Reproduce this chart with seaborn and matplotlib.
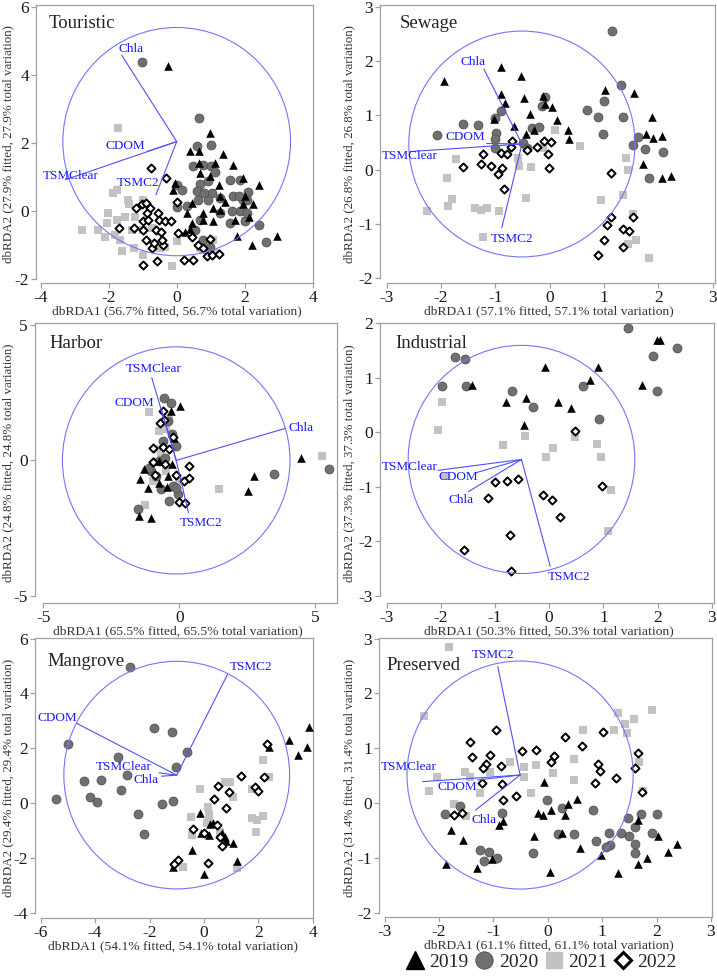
import matplotlib
matplotlib.use("Agg")
import pandas as pd
import matplotlib.pyplot as plt
import seaborn as sns
from matplotlib.patches import Circle
from matplotlib.lines import Line2D

sns.set_style("white")
plt.rcParams['font.family'] = ['Liberation Serif', 'DejaVu Serif']
plt.rcParams['axes.unicode_minus'] = False

years = ["2019", "2020", "2021", "2022"]
variables = ["Chla", "CDOM", "TSMClear", "TSMC2"]

# ---------------- Touristic
touristic_pct = (56.7, 27.9)
touristic_2019 = [(-0.26, 4.27), (0.98, 2.29), (0.67, 1.75), (0.39, 1.75), (0.67, 1.41), (0.69, 1.11),
                  (0.98, 1.02), (1.13, 1.41), (1.37, 1.68), (1.23, 0.77), (1.27, 0.43), (1.42, 0.28),
                  (1.67, 1.36), (1.96, 0.97), (2.01, 0.43), (1.96, 0.22), (2.25, 0.22), (2.42, 0.77),
                  (0.44, 0.23), (-0.10, 0.61), (-0.05, 0.82), (0.29, -0.06), (0.78, -0.06), (1.08, 0.09),
                  (1.27, 0.04), (0.44, -0.35), (0.78, -0.25), (1.08, -0.30), (1.72, -0.25), (2.14, -0.16),
                  (1.77, -0.74), (2.21, -0.99), (2.94, -0.74), (0.25, -0.60), (0.39, -0.53)]
touristic_2020 = [(-1.03, 4.39), (0.66, 2.73), (0.59, 1.90), (1.00, 1.93), (0.76, 1.34), (0.49, 1.33),
                  (1.02, 1.31), (1.13, 1.16), (0.69, 0.79), (0.93, 0.87), (1.05, 0.53), (1.27, 0.38),
                  (1.57, 0.92), (1.86, 0.92), (1.67, 0.43), (2.11, 0.56), (1.96, 0.33), (2.08, 0.33),
                  (1.86, -0.01), (1.62, -0.01), (1.84, 0.43), (0.00, 0.77), (0.15, 0.61), (0.00, 0.12),
                  (0.31, 0.14), (0.59, 0.58), (0.80, 0.53), (0.64, 0.33), (0.93, 0.33), (1.57, -0.35),
                  (2.01, -0.30), (2.06, -0.06), (2.43, -0.40), (2.62, -0.92), (0.69, -0.25), (0.54, -0.55),
                  (0.78, -0.84), (0.98, -1.04), (1.27, -0.06)]
touristic_2021 = [(-1.74, 2.44), (-1.76, 0.63), (-1.86, 0.53), (-2.01, -0.06), (-2.33, -0.55), (-2.79, -0.55),
                  (-2.06, -0.35), (-2.11, -0.76), (-1.76, -0.25), (-1.42, 0.33), (-1.52, -0.16), (-1.39, 0.22),
                  (-0.98, 0.33), (-1.23, -0.16), (-0.98, -0.55), (-1.32, -0.55), (-1.67, -0.84), (-1.81, -0.69),
                  (-1.62, -1.18), (-1.27, -1.09), (-0.98, -1.28), (-0.74, -0.50), (-0.49, -1.09), (-0.34, -1.04),
                  (0.00, -0.89), (-0.15, -1.62), (0.78, -1.13), (1.18, -1.23), (2.01, -0.30), (0.69, -1.09),
                  (1.08, -0.84)]
touristic_2022 = [(-0.76, 1.26), (-0.32, 0.97), (-1.19, 0.09), (-1.03, 0.22), (-0.91, 0.23), (-0.78, 0.09),
                  (-1.70, -0.50), (-1.27, -0.50), (-1.00, -0.55), (-0.98, -0.30), (-0.88, -0.06), (-0.83, -0.25),
                  (-0.61, -0.55), (-0.54, -0.06), (-0.51, -0.25), (-0.34, -0.30), (-0.17, -0.28), (0.00, 0.28),
                  (-0.91, -0.84), (-0.74, -1.09), (-0.67, -0.94), (-0.45, -0.60), (-0.39, -0.99), (0.05, -0.65),
                  (0.44, -0.76), (0.64, -0.99), (0.76, -1.09), (0.98, -0.81), (0.20, -1.43), (0.47, -1.43),
                  (0.88, -1.33), (1.03, -1.28), (1.23, -1.26), (-0.98, -1.58), (-0.57, -1.45), (-0.44, -0.84)]
touristic_center = (0.0, 2.04)
touristic_radius = 3.35
touristic_vectors = {"Chla": (-1.62, 4.58), "CDOM": (-0.88, 1.75), "TSMClear": (-3.28, 0.92), "TSMC2": (-0.61, 0.48)}

# ---------------- Sewage
sewage_pct = (57.1, 26.8)
sewage_2019 = [(-1.95, 1.63), (-0.90, 1.88), (-0.52, 1.72), (-0.89, 1.40), (-0.82, 1.23), (-0.48, 1.32),
               (-0.36, 1.02), (-0.13, 1.35), (-0.09, 1.21), (0.05, 1.15), (0.14, 0.92), (-0.66, 0.80),
               (-0.43, 0.65), (-0.29, 0.72), (0.34, 0.72), (0.36, 0.56), (1.02, 1.47), (1.55, 1.41),
               (1.89, 0.97), (1.77, 0.66), (1.90, 0.58), (2.06, 0.62), (1.71, 0.11), (2.07, -0.15),
               (2.23, -0.12), (-1.02, 0.93)]
sewage_2020 = [(1.15, 2.55), (-2.07, 0.64), (-1.59, 0.83), (-1.31, 0.82), (-1.01, 0.94), (-0.90, 1.08),
               (-0.99, 0.68), (-1.01, 0.56), (-1.01, 0.40), (-0.32, 0.77), (-0.19, 0.79), (-0.15, 1.17),
               (-0.08, 1.34), (-0.49, 0.48), (-0.41, 0.40), (0.68, 1.09), (0.88, 0.96), (1.00, 1.26),
               (1.31, 1.56), (1.35, 0.96), (0.98, 0.66), (1.62, 0.59), (1.53, 0.45), (1.76, 0.37),
               (2.08, 0.33), (1.82, -0.15)]
sewage_2021 = [(-1.73, 0.19), (-1.89, -0.15), (-1.79, -0.55), (-1.87, -0.67), (-2.25, -0.76), (-1.38, -0.70),
               (-1.26, -0.75), (-1.15, -0.70), (-0.94, -0.76), (-1.22, -1.24), (-0.57, 0.07), (-0.43, -0.52),
               (-0.34, 0.05), (-0.12, 0.40), (0.10, 0.72), (0.55, 0.44), (0.95, -0.56), (1.35, -0.47),
               (1.40, 0.22), (1.44, 0.00), (1.54, -0.81), (1.58, -1.29), (1.44, -1.37), (1.82, -1.63),
               (-0.58, 0.22)]
sewage_2022 = [(-1.59, 0.05), (-1.22, 0.28), (-1.27, 0.10), (-1.08, 0.07), (-0.95, -0.09), (-0.87, 0.02),
               (-0.90, 0.30), (-0.78, 0.28), (-0.72, 0.42), (-0.69, 0.53), (-0.84, -0.35), (-0.42, 0.36),
               (-0.23, 0.42), (-0.11, 0.53), (0.02, 0.51), (-0.03, 0.28), (-0.01, 0.02), (1.13, -0.06),
               (1.12, -0.87), (1.05, -1.03), (0.99, -1.30), (0.88, -1.58), (1.35, -1.10), (1.45, -1.14),
               (1.35, -1.42), (1.53, -0.88)]
sewage_center = (-0.51, 0.47)
sewage_radius = 2.08
sewage_vectors = {"Chla": (-1.21, 1.85), "CDOM": (-1.16, 0.48), "TSMClear": (-2.57, 0.33), "TSMC2": (-0.88, -1.07)}

# ---------------- Harbor
harbor_pct = (65.5, 24.8)
harbor_2019 = [(0.04, 2.02), (-1.28, -0.32), (-1.45, -0.70), (-1.15, -1.01), (-1.47, -2.05), (-1.03, -2.12),
               (-0.76, -0.02), (-0.74, -0.82), (-0.45, -0.97), (-0.40, -0.58), (-0.18, 0.84), (-0.25, -0.15),
               (2.76, -0.59), (2.55, -1.11), (4.48, 0.10), (-0.31, 1.82)]
harbor_2020 = [(-0.55, 2.29), (-0.29, 2.12), (-0.25, 0.98), (-0.12, 0.53), (-0.61, 0.71), (-0.74, -0.02),
               (-1.04, -0.39), (-0.86, -0.58), (-0.67, -1.07), (-0.37, -1.50), (-0.06, -1.25), (-0.22, -0.95),
               (-0.52, 0.10), (-1.50, -1.78), (3.50, -0.49), (5.52, -0.31), (-1.10, -0.27), (-0.12, -1.01),
               (-0.43, 1.45)]
harbor_2021 = [(-1.10, 1.80), (-0.74, 1.08), (-0.47, 1.17), (-0.37, 1.57), (-0.80, 0.41), (-0.67, 0.16),
               (-0.96, -0.76), (-1.25, -1.66), (1.47, -1.05), (5.25, 0.16), (0.00, -0.76), (-0.49, -0.39)]
harbor_2022 = [(-0.58, 1.81), (-0.56, 1.50), (-0.69, 1.39), (-0.22, 0.85), (-0.96, 0.46), (-0.61, 0.49),
               (-0.37, 0.43), (-0.97, -0.07), (-0.54, -0.12), (-0.88, -0.53), (-0.12, -0.53), (0.37, -0.21),
               (0.37, -0.64), (0.18, -0.77), (0.00, -1.54), (0.20, -1.57), (-0.96, -0.05)]
harbor_center = (-0.11, 0.0)
harbor_radius = 4.19
harbor_vectors = {"Chla": (3.90, 1.18), "CDOM": (-0.67, 1.92), "TSMClear": (-1.01, 3.05), "TSMC2": (0.34, -1.93)}

# ---------------- Industrial
industrial_pct = (50.3, 37.3)
industrial_2019 = [(-1.42, 0.86), (-0.79, 0.56), (-0.43, 0.62), (-0.47, 0.13), (-0.08, 1.19), (0.17, 0.56),
                   (0.41, 0.44), (0.75, 0.96), (0.90, 1.19), (1.72, 0.86), (1.98, 1.68), (2.05, 1.68)]
industrial_2020 = [(1.46, 1.91), (-1.74, 1.38), (-1.55, 1.34), (-1.98, 0.84), (-1.54, 0.84), (-0.68, 0.75),
                   (-0.29, 0.46), (0.62, 0.84), (0.92, 0.25), (1.91, 1.39), (2.35, 1.55), (1.98, 0.76)]
industrial_2021 = [(-1.98, 0.56), (-2.05, 0.04), (-1.93, -0.81), (-0.85, -0.23), (-0.45, -0.07), (-0.05, -0.46),
                   (0.07, -0.29), (0.47, -0.08), (0.89, -0.21), (0.96, -0.46), (1.14, -1.06), (1.09, -1.82)]
industrial_2022 = [(-1.00, -0.92), (-0.77, -0.89), (-0.57, -0.86), (-1.12, -1.21), (-0.11, -1.15), (0.06, -1.25),
                   (0.20, -1.56), (0.47, 0.02), (0.98, -0.98), (-0.72, -1.88), (-1.58, -2.16), (-0.71, -2.54)]
industrial_center = (-0.51, -0.50)
industrial_radius = 2.09
industrial_vectors = {"Chla": (-1.49, -1.09), "CDOM": (-1.34, -0.74), "TSMClear": (-2.05, -0.70), "TSMC2": (0.02, -2.46)}

# ---------------- Mangrove
mangrove_pct = (54.1, 29.4)
mangrove_2019 = [(-0.15, -0.35), (-0.11, -1.08), (0.22, -0.78), (0.34, -0.72), (0.17, -1.17), (0.67, -1.08),
                 (0.77, -1.23), (0.80, -1.37), (1.08, -1.47), (1.20, -2.10), (-0.42, -1.71), (-1.13, -2.32),
                 (0.01, -2.59), (2.40, 2.03), (3.14, 2.30), (3.47, 1.75), (3.80, 2.03), (3.88, 2.78)]
mangrove_2020 = [(-2.70, 4.95), (-4.99, 2.15), (-1.84, 2.72), (-1.19, 2.60), (-0.61, 1.88), (-1.03, 1.30),
                 (-3.15, 1.69), (-2.84, 1.02), (-3.79, 0.84), (-4.40, 0.80), (-3.06, 0.47), (-4.19, 0.23),
                 (-3.93, 0.04), (-5.44, 0.15), (-2.44, -0.40), (-2.21, -1.11), (-1.54, -0.04), (-1.15, 0.07)]
mangrove_2021 = [(-0.15, 0.53), (-0.49, -0.50), (0.16, -0.13), (0.17, -0.38), (0.18, -0.62), (-0.45, -1.17),
                 (0.77, 0.78), (0.96, 0.78), (1.08, 0.23), (1.78, 0.53), (2.16, 1.57), (2.40, 0.96),
                 (1.75, -0.54), (1.94, -0.60), (2.18, -0.47), (1.90, -1.05), (1.23, -2.38), (-0.76, -2.32),
                 (0.10, -0.74), (0.59, -1.05)]
mangrove_2022 = [(2.32, 2.15), (1.35, 0.98), (2.21, 0.95), (1.88, 0.60), (2.00, 0.44), (0.50, 0.62),
                 (0.91, 0.39), (0.38, 0.15), (0.82, -0.19), (-0.39, -0.96), (0.00, -1.08), (0.49, -0.80),
                 (0.59, -1.23), (0.65, -1.57), (0.16, -2.18), (-0.94, -2.08), (-1.10, -2.22)]
mangrove_center = (-1.00, 1.02)
mangrove_radius = 4.15
mangrove_vectors = {"Chla": (-1.55, 0.98), "CDOM": (-4.68, 2.91), "TSMClear": (-1.65, 1.10), "TSMC2": (0.87, 4.70)}

# ---------------- Preserved
preserved_pct = (61.1, 31.4)
preserved_2019 = [(-0.07, 0.39), (-1.88, -1.11), (-1.78, -0.50), (-1.56, -0.67), (-1.31, -1.19), (-1.02, -1.03),
                  (-0.89, -0.41), (-0.82, -0.33), (-0.25, -0.61), (-0.18, -0.18), (-0.08, -0.22), (0.05, -0.13),
                  (0.04, -1.25), (0.26, -0.54), (0.32, -0.22), (0.37, -0.01), (0.54, 0.07), (0.60, -0.82),
                  (0.97, -0.95), (1.29, -1.28), (1.66, -1.11), (1.66, -0.31), (1.83, -1.01), (2.02, -0.61),
                  (2.21, -0.89), (2.38, -0.75)]
preserved_2020 = [(-1.90, -0.20), (-1.61, -0.05), (-0.84, -0.19), (-1.24, -0.85), (-1.09, -0.89), (-1.18, -1.05),
                  (-0.93, -1.01), (-0.28, -0.91), (-0.02, 0.05), (0.26, -0.09), (0.19, -0.57), (0.49, -0.57),
                  (0.83, -0.12), (0.88, -0.69), (1.12, -0.54), (1.15, -0.77), (1.35, -0.54), (1.48, -0.27),
                  (1.49, -0.61), (1.61, -0.43), (1.61, -0.74), (1.61, -0.91), (1.71, -0.20), (1.92, -0.54),
                  (2.01, -0.20), (1.07, -0.80)]
preserved_2021 = [(-1.81, 2.84), (-2.27, 1.59), (-2.04, 0.47), (-2.18, 0.21), (-1.72, -0.01), (-1.52, 0.57),
                  (-1.43, 0.48), (-1.25, 0.19), (-1.06, 0.57), (-0.69, 0.74), (-0.44, 0.65), (-0.44, 0.48),
                  (-0.31, 0.19), (-0.21, 0.69), (0.10, 0.54), (0.48, 0.81), (0.49, 0.42), (0.65, 1.34),
                  (1.21, 1.33), (1.30, 1.64), (1.42, 1.45), (1.45, 1.28), (1.58, 1.53), (1.91, 1.70),
                  (1.67, 0.75), (1.75, 0.22), (-1.50, -0.23)]
preserved_2022 = [(-0.95, 1.34), (-1.43, 1.11), (-1.40, 0.83), (-1.06, 0.88), (-1.13, 0.71), (-1.19, 0.63),
                  (-0.86, 0.68), (-1.21, 0.36), (-0.84, 0.34), (-0.83, 0.05), (-0.58, 0.12), (-0.47, 0.94),
                  (-0.21, 0.96), (0.12, 0.86), (0.05, 0.75), (0.32, 1.21), (0.63, 1.04), (1.01, 1.29),
                  (0.92, 0.72), (0.96, 0.58), (0.87, 0.36), (1.26, 0.46), (1.60, 0.63), (1.65, 0.91),
                  (1.73, 0.20), (-1.73, -0.22), (-1.58, -0.18)]
preserved_center = (-0.51, 0.51)
preserved_radius = 2.08
preserved_vectors = {"Chla": (-1.33, -0.13), "CDOM": (-1.29, 0.42), "TSMClear": (-2.30, 0.39), "TSMC2": (-0.92, 2.49)}

# ---------------- layout (pixels of a 717x977 canvas) and axis set-up
W, H = 717, 977
layout = {
    "Touristic":  dict(box=(36, 5, 313, 283), xlim=(-4.14, 4.01), ylim=(-2.11, 6.05),
                       xt=[-4, -2, 0, 2, 4], yt=[-2, 0, 2, 4, 6], title=(49, 24), xmid=177),
    "Sewage":     dict(box=(380, 5, 715, 283), xlim=(-3.12, 3.04), ylim=(-2.09, 3.03),
                       xt=[-3, -2, -1, 0, 1, 2, 3], yt=[-2, -1, 0, 1, 2, 3], title=(400, 24), xmid=549),
    "Harbor":     dict(box=(35, 323, 337, 603), xlim=(-5.31, 5.81), ylim=(-5.26, 5.07),
                       xt=[-5, 0, 5], yt=[-5, 0, 5], title=(49, 344), xmid=178),
    "Industrial": dict(box=(380, 323, 714, 603), xlim=(-3.12, 3.04), ylim=(-3.13, 2.0),
                       xt=[-3, -2, -1, 0, 1, 2, 3], yt=[-3, -2, -1, 0, 1, 2], title=(395, 343), xmid=549),
    "Mangrove":   dict(box=(35, 638, 313, 918), xlim=(-6.21, 4.01), ylim=(-4.19, 6.02),
                       xt=[-6, -4, -2, 0, 2, 4], yt=[-4, -2, 0, 2, 4, 6], title=(47, 662), xmid=173),
    "Preserved":  dict(box=(379, 638, 712, 917), xlim=(-3.105, 3.02), ylim=(-2.08, 3.01),
                       xt=[-3, -2, -1, 0, 1, 2, 3], yt=[-2, -1, 0, 1, 2, 3], title=(386, 666), xmid=549),
}
# vector label anchors (centre of text, data units)
label_xy = {
    "Touristic":  {"Chla": (-1.35, 4.76), "CDOM": (-1.51, 1.90), "TSMClear": (-3.12, 1.02), "TSMC2": (-1.13, 0.82)},
    "Sewage":     {"Chla": (-1.41, 1.98), "CDOM": (-1.56, 0.59), "TSMClear": (-2.57, 0.25), "TSMC2": (-0.69, -1.28)},
    "Harbor":     {"Chla": (4.49, 1.18), "CDOM": (-1.64, 2.13), "TSMClear": (-0.94, 3.36), "TSMC2": (0.82, -2.30)},
    "Industrial": {"Chla": (-1.63, -1.24), "CDOM": (-1.67, -0.83), "TSMClear": (-2.57, -0.63), "TSMC2": (0.37, -2.65)},
    "Mangrove":   {"Chla": (-2.13, 0.86), "CDOM": (-5.39, 3.09), "TSMClear": (-2.94, 1.33), "TSMC2": (1.72, 4.95)},
    "Preserved":  {"Chla": (-1.18, -0.31), "CDOM": (-1.67, 0.30), "TSMClear": (-2.56, 0.66), "TSMC2": (-1.01, 2.70)},
}

panels = {
    "Touristic": (touristic_pct, [touristic_2019, touristic_2020, touristic_2021, touristic_2022],
                  touristic_center, touristic_radius, touristic_vectors),
    "Sewage": (sewage_pct, [sewage_2019, sewage_2020, sewage_2021, sewage_2022],
               sewage_center, sewage_radius, sewage_vectors),
    "Harbor": (harbor_pct, [harbor_2019, harbor_2020, harbor_2021, harbor_2022],
               harbor_center, harbor_radius, harbor_vectors),
    "Industrial": (industrial_pct, [industrial_2019, industrial_2020, industrial_2021, industrial_2022],
                   industrial_center, industrial_radius, industrial_vectors),
    "Mangrove": (mangrove_pct, [mangrove_2019, mangrove_2020, mangrove_2021, mangrove_2022],
                 mangrove_center, mangrove_radius, mangrove_vectors),
    "Preserved": (preserved_pct, [preserved_2019, preserved_2020, preserved_2021, preserved_2022],
                  preserved_center, preserved_radius, preserved_vectors),
}

# marker styles per year
year_style = {
    "2019": dict(marker="^", color="black", edgecolor="black", s=38, linewidth=0),
    "2020": dict(marker="o", color="#707070", edgecolor="#4a4a4a", s=42, linewidth=0.5),
    "2021": dict(marker="s", color="#c2c2c2", edgecolor="#c2c2c2", s=30, linewidth=0),
    "2022": dict(marker="D", color="white", edgecolor="black", s=17, linewidth=1.4),
}
draw_order = ["2021", "2020", "2019", "2022"]

SPINE = "#a0a0a0"
BLUE_CIRCLE = "#7474ff"
BLUE_LINE = "#5050ff"
BLUE_TEXT = "#1a1aff"

fig = plt.figure(figsize=(W / 100, H / 100), dpi=100)

for name, (pct, year_pts, center, radius, vectors) in panels.items():
    lay = layout[name]
    l, t, r, b = lay["box"]
    ax = fig.add_axes([l / W, 1 - b / H, (r - l) / W, (b - t) / H])

    rows = []
    for yr, pts in zip(years, year_pts):
        for x, y in pts:
            rows.append({"x": x, "y": y, "year": yr})
    df = pd.DataFrame(rows)

    for yr in draw_order:
        sub = df[df["year"] == yr]
        st = year_style[yr]
        sns.scatterplot(data=sub, x="x", y="y", ax=ax, marker=st["marker"], color=st["color"],
                        edgecolor=st["edgecolor"], s=st["s"], linewidth=st["linewidth"],
                        legend=False, zorder=3)

    # correlation circle and vectors
    ax.add_patch(Circle(center, radius, fill=False, edgecolor=BLUE_CIRCLE, linewidth=0.8, zorder=4))
    for v in variables:
        ex, ey = vectors[v]
        ax.plot([center[0], ex], [center[1], ey], color=BLUE_LINE, linewidth=0.8, zorder=4)
        lx, ly = label_xy[name][v]
        ax.text(lx, ly, v, color=BLUE_TEXT, fontsize=9.5, ha="center", va="center", zorder=5)

    ax.set_xlim(*lay["xlim"])
    ax.set_ylim(*lay["ylim"])
    ax.set_xticks(lay["xt"])
    ax.set_yticks(lay["yt"])
    ax.set_xlabel("")
    ax.set_ylabel("")
    for sp in ax.spines.values():
        sp.set_color(SPINE)
        sp.set_linewidth(0.9)
        sp.set_visible(True)
    ax.spines["left"].set_bounds(lay["yt"][0], lay["ylim"][1])
    ax.spines["bottom"].set_bounds(lay["xt"][0], lay["xlim"][1])
    ax.tick_params(axis="both", direction="out", length=3.5, width=0.9, color=SPINE,
                   labelsize=12.5, labelcolor="#1a1a1a", pad=1.5, left=True, bottom=True)
    ax.grid(False)

    # axis titles and panel name
    fig.text(lay["xmid"] / W, 1 - (b + 28) / H,
             f"dbRDA1 ({pct[0]}% fitted, {pct[0]}% total variation)",
             ha="center", va="center", fontsize=9.7, color="#333333")
    ylab_x = 8.5 if l < 100 else 349
    fig.text(ylab_x / W, 1 - ((t + b) / 2) / H,
             f"dbRDA2 ({pct[1]}% fitted, {pct[1]}% total variation)",
             ha="center", va="center", rotation=90, fontsize=9.4, color="#333333")
    tx, ty = lay["title"]
    fig.text(tx / W, 1 - ty / H, name, ha="left", va="center", fontsize=13.5, color="#222222")

# legend
handles = [
    Line2D([], [], linestyle="none", marker="^", markersize=13, color="black"),
    Line2D([], [], linestyle="none", marker="o", markersize=12.5, markerfacecolor="#707070",
           markeredgecolor="#4a4a4a", markeredgewidth=0.6),
    Line2D([], [], linestyle="none", marker="s", markersize=11, color="#c2c2c2"),
    Line2D([], [], linestyle="none", marker="D", markersize=8.5, markerfacecolor="white",
           markeredgecolor="black", markeredgewidth=2.2),
]
fig.legend(handles, years, loc="center", bbox_to_anchor=(541 / W, 1 - 962 / H), ncol=4,
           frameon=False, fontsize=14, handletextpad=0.25, columnspacing=0.3, handlelength=1.0,
           borderpad=0.1)

fig.savefig("out.png", dpi=100)
